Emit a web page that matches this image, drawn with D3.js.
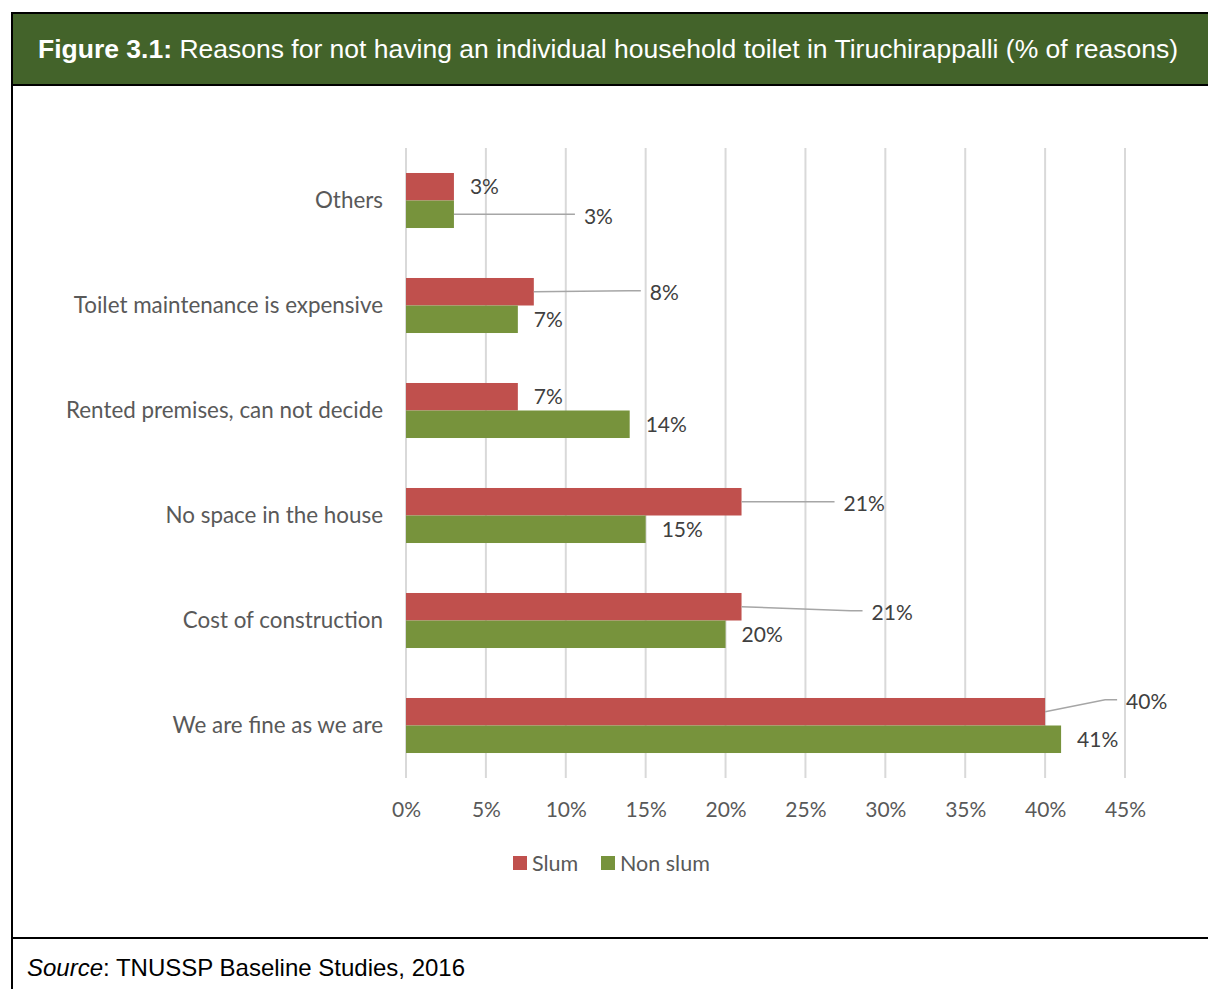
<!DOCTYPE html>
<html>
<head>
<meta charset="utf-8">
<script src="https://cdnjs.cloudflare.com/ajax/libs/d3/7.8.5/d3.min.js"></script>
<style>
  body { margin: 0; background: #fff; }
  svg { display: block; }
</style>
</head>
<body>
<div id="chart-area"></div>
<script>
// Data
let categories = ['Others', 'Toilet maintenance is expensive', 'Rented premises, can not decide',
  'No space in the house', 'Cost of construction', 'We are fine as we are']
let slum = [3, 8, 7, 21, 21, 40]
let nonSlum = [3, 7, 14, 15, 20, 41]
let ticks = [0, 5, 10, 15, 20, 25, 30, 35, 40, 45]
let seriesNames = ['Slum', 'Non slum']

// manually moved data labels (px shift from default spot)
let slumLabelDx = [0, 100, 0, 86, 114, 65]
let slumLabelDy = [0, 1, 0, 2, 6, -10]
let nonLabelDx = [114, 0, 0, 0, 0, 0]
let nonLabelDy = [2, 0, 0, 0, 0, 0]

let colors = { slum: '#C0504D', non: '#77933C' }
let W = 1208, H = 989

let svg = d3.select('#chart-area').append('svg')
  .attr('width', W)
  .attr('height', H)

// Frame + header
svg.append('rect')
  .attr('x', 12).attr('y', 13)
  .attr('width', W).attr('height', 72)
  .attr('fill', '#43632A')
svg.append('path')
  .attr('d', 'M12,' + H + ' V13 H' + W + ' M12,85 H' + W + ' M12,938 H' + W)
  .attr('fill', 'none')
  .attr('stroke', '#000')
  .attr('stroke-width', 2)

let title = svg.append('text')
  .attr('x', 38).attr('y', 58)
  .attr('fill', '#fff')
  .style('font-family', 'Liberation Sans, Arial, sans-serif')
  .style('font-size', '26.5px')
title.append('tspan').attr('font-weight', 'bold').text('Figure 3.1:')
title.append('tspan').text(' Reasons for not having an individual household toilet in Tiruchirappalli (% of reasons)')

let source = svg.append('text')
  .attr('x', 27).attr('y', 976)
  .attr('fill', '#000')
  .style('font-family', 'Liberation Sans, Arial, sans-serif')
  .style('font-size', '24px')
source.append('tspan').attr('font-style', 'italic').text('Source')
source.append('tspan').text(': TNUSSP Baseline Studies, 2016')

// Scales
let x = d3.scaleLinear().domain([0, 45]).range([406, 1125])
let y = d3.scaleBand().domain(categories).range([148, 778])
  .paddingInner(0.476).paddingOuter(0.238)
let bh = y.bandwidth() / 2

let font = 'Lato, Calibri, sans-serif'

// Gridlines
svg.append('g').selectAll('line')
  .data(ticks)
  .join('line')
  .attr('x1', d => x(d)).attr('x2', d => x(d))
  .attr('y1', 148).attr('y2', 778)
  .attr('stroke', '#D9D9D9')
  .attr('stroke-width', 2)

// X axis labels
let xAxis = svg.append('g')
  .attr('transform', 'translate(0,778)')
  .call(d3.axisBottom(x).tickValues(ticks).tickFormat(d => d + '%').tickSize(0).tickPadding(24))
xAxis.select('.domain').remove()
xAxis.selectAll('text')
  .attr('fill', '#595959')
  .style('font-family', font)
  .style('font-size', '21px')

// Y axis labels
let yAxis = svg.append('g')
  .attr('transform', 'translate(383,0)')
  .call(d3.axisLeft(y).tickSize(0).tickPadding(0))
yAxis.select('.domain').remove()
yAxis.selectAll('text')
  .attr('fill', '#595959')
  .attr('dy', '0.35em')
  .style('font-family', font)
  .style('font-size', '22.4px')

// Bars
let rows = categories.map((c, i) => ({ cat: c, i: i, slum: slum[i], non: nonSlum[i] }))

svg.append('g').selectAll('rect')
  .data(rows)
  .join('rect')
  .attr('x', x(0))
  .attr('y', d => y(d.cat))
  .attr('width', d => x(d.slum) - x(0))
  .attr('height', bh)
  .attr('fill', colors.slum)

svg.append('g').selectAll('rect')
  .data(rows)
  .join('rect')
  .attr('x', x(0))
  .attr('y', d => y(d.cat) + bh)
  .attr('width', d => x(d.non) - x(0))
  .attr('height', bh)
  .attr('fill', colors.non)

// Data labels with leader lines
function labels(key, dxs, dys, off) {
  let g = svg.append('g')
  rows.forEach((d) => {
    let v = d[key]
    let bx = x(v)
    let by = y(d.cat) + off + bh / 2
    let lx = bx + 16 + dxs[d.i]
    let ly = by + dys[d.i]
    if (dxs[d.i] > 0) {
      g.append('polyline')
        .attr('points', [[bx, by], [lx - 21, ly - 2], [lx - 9, ly - 2]].map(p => p.join(',')).join(' '))
        .attr('fill', 'none')
        .attr('stroke', '#A6A6A6')
        .attr('stroke-width', 1.5)
    }
    g.append('text')
      .attr('x', lx).attr('y', ly)
      .attr('dy', '0.35em')
      .attr('fill', '#404040')
      .style('font-family', font)
      .style('font-size', '21px')
      .text(v + '%')
  })
}
labels('slum', slumLabelDx, slumLabelDy, 0)
labels('non', nonLabelDx, nonLabelDy, bh)

// Legend
let legend = svg.append('g').attr('transform', 'translate(513,856)')
let items = legend.selectAll('g')
  .data(seriesNames)
  .join('g')
  .attr('transform', (d, i) => 'translate(' + (i * 88) + ',0)')
items.append('rect')
  .attr('width', 14).attr('height', 14)
  .attr('fill', (d, i) => i === 0 ? colors.slum : colors.non)
items.append('text')
  .attr('x', 19).attr('y', 7)
  .attr('dy', '0.35em')
  .attr('fill', '#595959')
  .style('font-family', font)
  .style('font-size', '21.5px')
  .text(d => d)
</script>
</body>
</html>
